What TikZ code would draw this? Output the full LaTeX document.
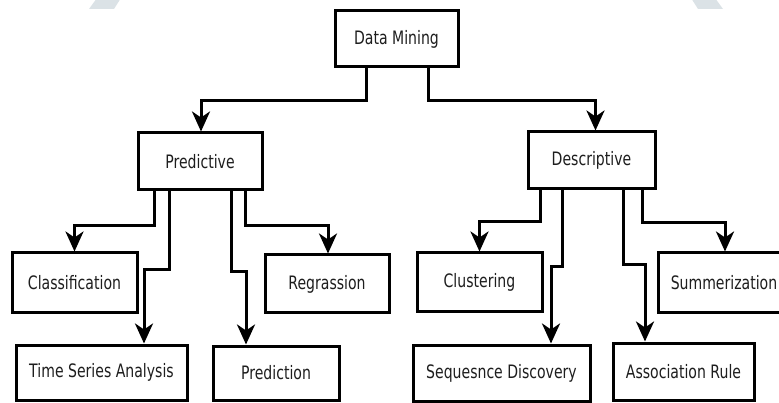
\documentclass[tikz,border=0pt]{standalone}
\usepackage{fontspec}
\setmainfont{DejaVu Sans}[FakeStretch=0.76]
\usetikzlibrary{arrows.meta}
\definecolor{faint}{HTML}{DBE2E6}
\definecolor{ink}{HTML}{1E1E1E}
\tikzset{
  box/.style={draw=black, line width=3pt, fill=white, rectangle, inner sep=0pt,
              font=\fontsize{18.5}{20}\selectfont, text=ink},
  arr/.style={line width=3pt, -{Stealth[length=20pt, width=18pt, inset=6pt]}}
}
\begin{document}
\begin{tikzpicture}[x=1pt, y=-1pt]
  \useasboundingbox (0,0) rectangle (779,403);
  \clip (0,0) rectangle (779,403);
  % faint header marks
  \fill[faint] (97,-2) -- (121,-2) -- (114,9) -- (89,9) -- cycle;
  \fill[faint] (691,-2) -- (715,-2) -- (723,9) -- (698,9) -- cycle;

  % root
  \node[box, minimum width=123pt, minimum height=56pt] (dm) at (396.5,39) {Data Mining};
  % second level
  \node[box, minimum width=124pt, minimum height=57pt] (pred) at (200,161.5) {Predictive};
  \node[box, minimum width=127pt, minimum height=57pt] (desc) at (591.5,160.5) {Descriptive};
  % predictive tasks
  \node[box, minimum width=125pt, minimum height=60pt] (clas) at (74.5,283) {Classification};
  \node[box, minimum width=171pt, minimum height=55pt] (tsa) at (101.5,372.5) {Time Series Analysis};
  \node[box, minimum width=126pt, minimum height=54pt] (prdn) at (276,373) {Prediction};
  \node[box, minimum width=124pt, minimum height=58pt] (regr) at (327,284) {Regrassion};
  % descriptive tasks
  \node[box, minimum width=125pt, minimum height=59pt] (clus) at (479.5,282.5) {Clustering};
  \node[box, minimum width=177pt, minimum height=56pt] (seq) at (501.5,373) {Sequesnce Discovery};
  \node[box, minimum width=141pt, minimum height=57pt] (assoc) at (683.5,371.5) {Association Rule};
  \node[box, minimum width=132pt, minimum height=60pt] (summ) at (724,283) {Summerization};

  % root to categories
  \draw[arr] ([xshift=-30.5pt]dm.south) -- ++(0,32) -| ([xshift=1pt]pred.north);
  \draw[arr] ([xshift=31.5pt]dm.south) -- ++(0,32) -| ([xshift=4pt]desc.north);
  % predictive branches
  \draw[arr] ([xshift=-46pt]pred.south) -- ++(0,34) -| (clas.north);
  \draw[arr] ([xshift=-31pt]pred.south) -- ++(0,78) -| ([xshift=42.5pt]tsa.north);
  \draw[arr] ([xshift=31pt]pred.south) -- ++(0,80) -| ([xshift=-30pt]prdn.north);
  \draw[arr] ([xshift=45pt]pred.south) -- ++(0,34) -| ([xshift=1pt]regr.north);
  % descriptive branches
  \draw[arr] ([xshift=-51.5pt]desc.south) -- ++(0,31) -| (clus.north);
  \draw[arr] ([xshift=-29.5pt]desc.south) -- ++(0,76) -| ([xshift=49.5pt]seq.north);
  \draw[arr] ([xshift=31.5pt]desc.south) -- ++(0,74) -| ([xshift=-38.5pt]assoc.north);
  \draw[arr] ([xshift=50.5pt]desc.south) -- ++(0,32) -| ([xshift=1pt]summ.north);
\end{tikzpicture}
\end{document}
